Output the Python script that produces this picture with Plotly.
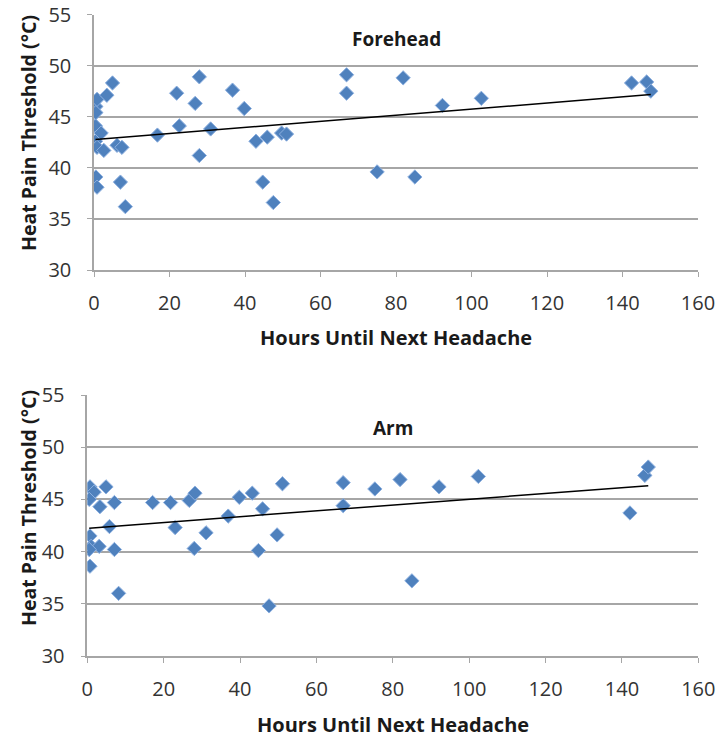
import numpy as np
import plotly.graph_objects as go

# ---------------- data ----------------
forehead_hours = [0.4, 0.4, 0.5, 0.5, 0.5, 0.8, 0.8, 0.8, 1.9, 2.6, 3.4, 4.9, 6.1, 7.4, 7.0, 8.3,
                  16.8, 21.9, 22.6, 26.8, 27.9, 27.9, 30.9, 36.7, 39.8, 42.9, 45.9, 44.7, 47.5,
                  49.7, 51.0, 66.9, 66.9, 75.0, 81.9, 85.0, 92.3, 102.6, 142.4, 146.4, 147.5]
forehead_temp = [44.1, 42.6, 46.0, 45.4, 39.1, 46.7, 42.0, 38.1, 43.4, 41.7, 47.1, 48.3, 42.2, 42.0, 38.6, 36.2,
                 43.2, 47.3, 44.1, 46.3, 48.9, 41.2, 43.8, 47.6, 45.8, 42.6, 43.0, 38.6, 36.6,
                 43.4, 43.3, 49.1, 47.3, 39.6, 48.8, 39.1, 46.1, 46.8, 48.3, 48.4, 47.5]

arm_hours = [0.7, 4.9, 1.8, 0.5, 3.3, 7.1, 5.8, 0.7, 1.0, 3.1, 0.5, 7.1, 0.7, 8.2,
             17.1, 21.8, 23.0, 26.7, 28.2, 28.0, 31.1, 36.9, 39.8, 43.2, 45.9, 44.8, 47.6,
             49.7, 51.1, 67.0, 67.0, 75.3, 81.9, 85.0, 92.1, 102.4, 142.1, 146.0, 146.9]
arm_temp = [46.2, 46.2, 45.7, 45.0, 44.3, 44.7, 42.4, 41.5, 40.5, 40.5, 40.2, 40.2, 38.6, 36.0,
            44.7, 44.7, 42.3, 44.9, 45.6, 40.3, 41.8, 43.4, 45.2, 45.6, 44.1, 40.1, 34.8,
            41.6, 46.5, 46.6, 44.4, 46.0, 46.9, 37.2, 46.2, 47.2, 43.7, 47.3, 48.1]

panel_titles = ["Forehead", "Arm"]
x_title = "Hours Until Next Headache"
y_title = "Heat Pain Threshold (°C)"
x_ticks = [0, 20, 40, 60, 80, 100, 120, 140, 160]
y_ticks = [30, 35, 40, 45, 50, 55]

# ---------------- figure ----------------
W, H = 720, 738


def px(xw):
    return xw / W


def py(yw):
    return 1 - yw / H


fig = go.Figure()

panels = [
    dict(xs=forehead_hours, ys=forehead_temp, xa="x", ya="y",
         left=94, right=698, top=14.5, bottom=270,
         title_y=39, ytitle_y=133),
    dict(xs=arm_hours, ys=arm_temp, xa="x2", ya="y2",
         left=87.3, right=698.3, top=395, bottom=656,
         title_y=428, ytitle_y=508),
]

FONT = "Open Sans"
GRID = "#a6a6a6"
TICKC = "#333333"
TITLEC = "#1a1a1a"

for i, p in enumerate(panels):
    xs = np.array(p["xs"])
    ys = np.array(p["ys"])
    slope, icpt = np.polyfit(xs, ys, 1)
    lx = np.array([xs.min(), xs.max()])
    fig.add_trace(go.Scatter(
        x=xs, y=ys, mode="markers", xaxis=p["xa"], yaxis=p["ya"],
        marker=dict(symbol="diamond", size=11, color="#4F81BD",
                    line=dict(color="#8DB0E0", width=1)),
        showlegend=False, hoverinfo="x+y"))
    fig.add_trace(go.Scatter(
        x=lx, y=slope * lx + icpt, mode="lines", xaxis=p["xa"], yaxis=p["ya"],
        line=dict(color="black", width=1.5), showlegend=False, hoverinfo="skip"))

    sfx = "" if i == 0 else "2"
    xdom = [px(p["left"]), px(p["right"])]
    ydom = [py(p["bottom"]), py(p["top"])]
    fig.layout["xaxis" + sfx] = dict(
        domain=xdom, anchor="y" + sfx, range=[0, 160], tickvals=x_ticks,
        showgrid=False, zeroline=False, showline=True, linecolor=GRID, linewidth=1.5,
        ticks="outside", ticklen=5, tickcolor=GRID, tickwidth=1,
        ticklabelstandoff=9, automargin=False, ticklabeloverflow="allow",
        tickfont=dict(family=FONT, size=20, color=TICKC),
        fixedrange=True)
    fig.layout["yaxis" + sfx] = dict(
        domain=ydom, anchor="x" + sfx, range=[30, 55], tickvals=y_ticks,
        showgrid=True, gridcolor=GRID, gridwidth=1.5, zeroline=False,
        showline=True, linecolor=GRID, linewidth=1.5,
        ticks="outside", ticklen=5, tickcolor=GRID, tickwidth=1,
        ticklabelstandoff=12, automargin=False, ticklabeloverflow="allow",
        tickfont=dict(family=FONT, size=20, color=TICKC),
        fixedrange=True)

    cx = (p["left"] + p["right"]) / 2
    # panel title
    fig.add_annotation(
        text="<b>" + panel_titles[i] + "</b>", xref="paper", yref="paper",
        x=px(cx), y=py(p["title_y"]), xanchor="center", yanchor="middle",
        showarrow=False, font=dict(family=FONT, size=19, color=TITLEC))
    # x-axis title
    fig.add_annotation(
        text="<b>" + x_title + "</b>", xref="paper", yref="paper",
        x=px(cx), y=py(p["bottom"] + 68), xanchor="center", yanchor="middle",
        showarrow=False, font=dict(family=FONT, size=20, color=TITLEC))
    # y-axis title
    fig.add_annotation(
        text="<b>" + y_title + "</b>", xref="paper", yref="paper",
        x=px(28), y=py(p["ytitle_y"]), xanchor="center", yanchor="middle",
        textangle=-90, showarrow=False, font=dict(family=FONT, size=19.5, color=TITLEC))

fig.update_layout(
    width=W, height=H, margin=dict(l=0, r=0, t=0, b=0),
    paper_bgcolor="white", plot_bgcolor="white")

# remove the default page margin so the 720x738 figure fills the window exactly
fig.write_html("out.html", config={"displayModeBar": False},
               post_script="document.body.style.margin='0';document.body.style.overflow='hidden';")
